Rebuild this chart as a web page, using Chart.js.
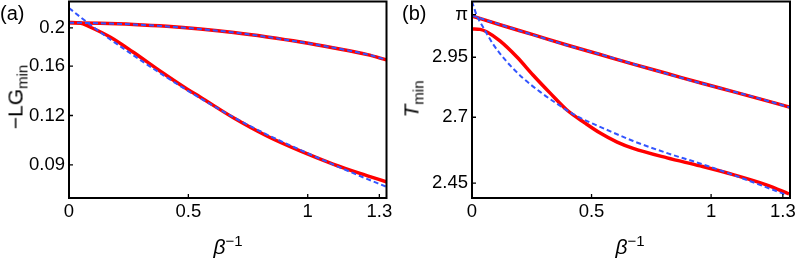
<!DOCTYPE html>
<html>
<head>
<meta charset="utf-8">
<script src="https://cdn.jsdelivr.net/npm/chart.js@4.4.0/dist/chart.umd.min.js"></script>
<style>
  html, body { margin: 0; padding: 0; background: #fff; }
  #wrap { position: relative; width: 797px; height: 259px; font-family: "Liberation Sans", Arial, sans-serif; color: #000; }
  .panel { position: absolute; top: 0; height: 259px; }
  .lbl { position: absolute; font-size: 20px; line-height: 1; white-space: nowrap; }
  .title { position: absolute; font-size: 21px; line-height: 1; white-space: nowrap; transform: translate(-50%, -50%); }
  .rot { transform: translate(-50%, -50%) rotate(-90deg); }
  .title sub, .title sup { font-size: 15px; line-height: 0; }
</style>
</head>
<body>
<div id="wrap">
  <div class="panel" style="left:0;width:400px"><canvas id="chartA"></canvas></div>
  <div class="panel" style="left:400px;width:397px"><canvas id="chartB"></canvas></div>
  <div class="lbl" style="left:0;top:3px">(a)</div>
  <div class="lbl" style="left:402px;top:3px">(b)</div>
  <div class="title rot" style="left:15px;top:97px">&minus;LG<sub>min</sub></div>
  <div class="title rot" style="left:411px;top:99px"><i>T</i><sub>min</sub></div>
  <div class="title" style="left:228px;top:246px"><i>&beta;</i><sup>&minus;1</sup></div>
  <div class="title" style="left:630px;top:246px"><i>&beta;</i><sup>&minus;1</sup></div>
</div>
<script>
// --- Tick values / labels ---
const xTicks = [0, 0.5, 1, 1.3];
const xTickLabels = ['0', '0.5', '1', '1.3'];
const lgTicks = [0.09, 0.12, 0.16, 0.2];
const lgTickLabels = ['0.09', '0.12', '0.16', '0.2'];
const tTicks = [2.45, 2.7, 2.95, Math.PI];
const tTickLabels = ['2.45', '2.7', '2.95', 'π'];

// --- Panel (a): -LG_min ---
const lgUpperX = [0, 0.13, 0.27, 0.41, 0.55, 0.69, 0.83, 0.97, 1.11, 1.25, 1.33];
const lgUpperRed = [0.2062, 0.2055, 0.2041, 0.2019, 0.1987, 0.1947, 0.1898, 0.1843, 0.1780, 0.1712, 0.1660];
const lgUpperBlue = [0.2063, 0.2056, 0.2041, 0.2018, 0.1987, 0.1948, 0.1898, 0.1842, 0.1781, 0.1713, 0.1661];

const lgLowerRedX = [0, 0.046, 0.088, 0.172, 0.268, 0.381, 0.494, 0.549, 0.687, 0.829, 0.968, 1.106, 1.219, 1.332];
const lgLowerRed = [0.2065, 0.2059, 0.2011, 0.1897, 0.1738, 0.1556, 0.1401, 0.1337, 0.1186, 0.1065, 0.0976, 0.0904, 0.0856, 0.0814];

const lgLowerBlueX = [0, 0.05, 0.13, 0.268, 0.381, 0.507, 0.687, 0.829, 0.968, 1.106, 1.219, 1.332];
const lgLowerBlue = [0.2247, 0.2126, 0.1953, 0.1708, 0.1538, 0.1376, 0.1190, 0.1074, 0.0982, 0.0902, 0.0843, 0.0791];

// --- Panel (b): T_min ---
const tUpperX = [0, 0.117, 0.255, 0.397, 0.536, 0.674, 0.816, 0.954, 1.092, 1.234, 1.331];
const tUpperRed = [3.135, 3.095, 3.050, 3.004, 2.962, 2.920, 2.880, 2.841, 2.804, 2.766, 2.740];
const tUpperBlue = [3.137, 3.096, 3.049, 3.003, 2.963, 2.921, 2.879, 2.840, 2.805, 2.767, 2.739];

const tLowerRedX = [0, 0.034, 0.063, 0.117, 0.188, 0.255, 0.326, 0.397, 0.473, 0.536, 0.607, 0.674, 0.816, 0.954, 1.092, 1.234, 1.326];
const tLowerRed = [3.076, 3.074, 3.062, 3.022, 2.951, 2.874, 2.799, 2.729, 2.677, 2.638, 2.603, 2.579, 2.543, 2.513, 2.481, 2.443, 2.411];

const tLowerBlueX = [0, 0.021, 0.046, 0.088, 0.146, 0.213, 0.285, 0.356, 0.423, 0.494, 0.536, 0.674, 0.816, 0.954, 1.092, 1.234, 1.318];
const tLowerBlue = [3.203, 3.135, 3.085, 3.008, 2.930, 2.861, 2.803, 2.754, 2.713, 2.679, 2.662, 2.607, 2.561, 2.522, 2.480, 2.434, 2.407];

// --- Helpers ---
const tickFont = { family: "'Liberation Sans', Arial, sans-serif", size: 18.5 };

function toPoints(xs, ys) {
  return xs.map((x, i) => ({ x: x, y: ys[i] }));
}

function redLine(xs, ys) {
  return { data: toPoints(xs, ys), borderColor: '#ff0000', borderWidth: 3.5,
           pointRadius: 0, cubicInterpolationMode: 'monotone', order: 2 };
}

function blueDash(xs, ys) {
  return { data: toPoints(xs, ys), borderColor: '#3355ff', borderWidth: 2, borderDash: [5, 3],
           pointRadius: 0, cubicInterpolationMode: 'monotone', order: 1 };
}

// frame + inward ticks, Mathematica style
const framePlugin = {
  id: 'frame',
  afterDatasetsDraw(chart, args, opts) {
    const { ctx, chartArea: a, scales } = chart;
    ctx.save();
    ctx.strokeStyle = '#000';
    ctx.lineWidth = 1.3;
    ctx.beginPath();
    opts.xTicks.forEach(v => {
      const x = scales.x.getPixelForValue(v);
      ctx.moveTo(x, a.bottom); ctx.lineTo(x, a.bottom - 4);
    });
    opts.yTicks.forEach(v => {
      const y = scales.y.getPixelForValue(v);
      ctx.moveTo(a.left, y); ctx.lineTo(a.left + 4, y);
    });
    ctx.stroke();
    ctx.lineWidth = 2;
    ctx.strokeRect(a.left, a.top, a.right - a.left, a.bottom - a.top);
    ctx.restore();
  }
};

function makePanel(id, datasets, yMin, yMax, yTicks, yLabels, yWidth, padRight) {
  const ctx = document.getElementById(id).getContext('2d');
  return new Chart(ctx, {
    type: 'line',
    data: { datasets: datasets },
    plugins: [framePlugin],
    options: {
      responsive: true,
      maintainAspectRatio: false,
      animation: false,
      events: [],
      layout: { padding: { left: 0, right: padRight, top: 1.5, bottom: 0 } },
      plugins: {
        legend: { display: false },
        tooltip: { enabled: false },
        frame: { xTicks: xTicks, yTicks: yTicks }
      },
      scales: {
        x: {
          type: 'linear', min: 0, max: 1.33,
          afterBuildTicks: s => { s.ticks = xTicks.map(v => ({ value: v })); },
          afterFit: s => { s.height = 61; s.paddingLeft = 0; s.paddingRight = 0; },
          ticks: { font: tickFont, color: '#000', padding: 3, maxRotation: 0, autoSkip: false,
                   callback: v => xTickLabels[xTicks.indexOf(v)] },
          grid: { display: false, drawTicks: false },
          border: { display: false }
        },
        y: {
          type: 'logarithmic', min: yMin, max: yMax,
          afterBuildTicks: s => { s.ticks = yTicks.map(v => ({ value: v })); },
          // keep the plot box where it is: no room reserved for half a label
          afterFit: s => { s.width = yWidth; s.paddingTop = 0; s.paddingBottom = 0; },
          ticks: { font: tickFont, color: '#000', padding: 4, autoSkip: false,
                   callback: v => yLabels[yTicks.indexOf(v)] },
          grid: { display: false, drawTicks: false },
          border: { display: false }
        }
      }
    }
  });
}

const chartA = makePanel('chartA', [
  blueDash(lgUpperX, lgUpperBlue),
  blueDash(lgLowerBlueX, lgLowerBlue),
  redLine(lgUpperX, lgUpperRed),
  redLine(lgLowerRedX, lgLowerRed)
], 0.07416, 0.2334, lgTicks, lgTickLabels, 69, 13.5);

const chartB = makePanel('chartB', [
  blueDash(tUpperX, tUpperBlue),
  blueDash(tLowerBlueX, tLowerBlue),
  redLine(tUpperX, tUpperRed),
  redLine(tLowerRedX, tLowerRed)
], 2.3968, 3.203, tTicks, tTickLabels, 72, 7);
</script>
</body>
</html>
